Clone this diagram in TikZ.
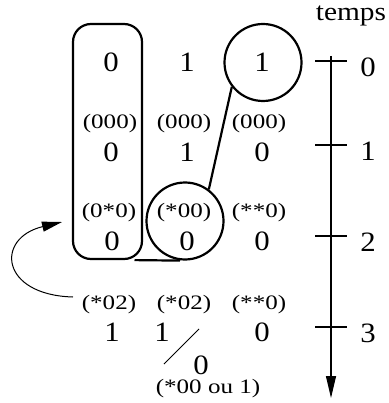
\documentclass[tikz,border=0pt]{standalone}
\usepackage{fontspec}
\usepackage{graphicx}
\setmainfont{Liberation Serif}
\newcommand{\Wb}[1]{\scalebox{1.1}[1]{#1}}
\newcommand{\Wl}[1]{\scalebox{1.22}[1]{#1}}
\usetikzlibrary{arrows.meta}
\begin{document}
\begin{tikzpicture}[x=1pt,y=-1pt,
  big/.style={inner sep=0pt,font=\fontsize{28}{28}\selectfont},
  lab/.style={inner sep=0pt,font=\fontsize{20.5}{20.5}\selectfont},
  thickline/.style={line width=2.2pt},
  thinline/.style={line width=1.2pt},
  tick/.style={line width=1.2pt}]
\useasboundingbox (0,0) rectangle (388,403);
% shapes
\node[draw,thickline,rounded corners=18pt,minimum width=69pt,minimum height=235pt,inner sep=0pt] (rect) at (107.5,141.5) {};
\node[draw,thickline,circle,minimum size=77pt,inner sep=0pt] (c1) at (263,62.5) {};
\node[draw,thickline,circle,minimum size=77pt,inner sep=0pt] (c2) at (185,221) {};
\draw[thickline] (c1.218) -- (c2.53);
\draw[thickline] ([xshift=27pt]rect.south) -- ([xshift=-5pt]c2.south);
% row 0
\node[big] (a0) at (111,62) {\Wb{0}};
\node[big] (b0) at (187,62) {\Wb{1}};
\node[big] (d0) at (262,62) {\Wb{1}};
% row 1
\node[lab] (la1) at (110,124) {\Wl{(000)}};
\node[lab] (lb1) at (184,124) {\Wl{(000)}};
\node[lab] (ld1) at (259,124) {\Wl{(000)}};
\node[big] (a1) at (111,152) {\Wb{0}};
\node[big] (b1) at (187,152) {\Wb{1}};
\node[big] (d1) at (262,152) {\Wb{0}};
% row 2
\node[lab] (la2) at (109,213) {\Wl{(0*0)}};
\node[lab] (lb2) at (184,213) {\Wl{(*00)}};
\node[lab] (ld2) at (259,213) {\Wl{(**0)}};
\node[big] (a2) at (112,241) {\Wb{0}};
\node[big] (b2) at (187,241) {\Wb{0}};
\node[big] (d2) at (262,241) {\Wb{0}};
% row 3
\node[lab] (la3) at (109,305) {\Wl{(*02)}};
\node[lab] (lb3) at (184,305) {\Wl{(*02)}};
\node[lab] (ld3) at (259,305) {\Wl{(**0)}};
\node[big] (a3) at (112,332) {\Wb{1}};
\node[big] (b3) at (162,332) {\Wb{1}};
\node[big] (d3) at (262,332) {\Wb{0}};
% bottom
\node[big] (e4) at (201,365) {\Wb{0}};
\node[lab] (le4) at (208,389) {\Wl{(*00 ou 1)}};
\coordinate (s1) at (199,329);
\coordinate (s2) at (164,364);
\draw[line width=1pt] (s1) -- (s2);
% curved arrow
\coordinate (ca) at (73,297);
\coordinate (cb) at (62,222);
\draw[line width=1pt,-{Triangle[length=20pt,width=10pt]}] (ca) .. controls (0,295) and (-5,238) .. (cb);
% timeline
\node[inner sep=0pt,font=\fontsize{26}{26}\selectfont] (temps) at (351,16) {\scalebox{1.13}[1]{temps}};
\coordinate (ttop) at (331,56);
\coordinate (tbot) at (331,398);
\draw[thinline,-{Triangle[length=22pt,width=10pt]}] (ttop) -- (tbot);
\foreach \y/\t/\n in {61/0/t0,145/1/t1,236/2/t2,327/3/t3}{
  \draw[tick] (315,\y) -- (347,\y);
  \node[big] (\n) at (368,\y+6) {\Wb{\t}};
}
\end{tikzpicture}
\end{document}
